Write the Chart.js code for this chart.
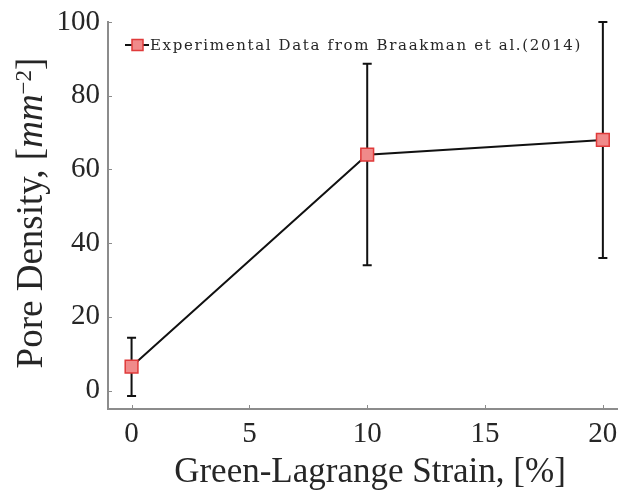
<!DOCTYPE html>
<html>
<head>
<meta charset="utf-8">
<script src="https://cdn.jsdelivr.net/npm/chart.js@4.4.1/dist/chart.umd.min.js"></script>
<style>
html,body{margin:0;padding:0;background:#fff;}
#wrap{width:618px;height:491px;position:relative;}
</style>
</head>
<body>
<div id="wrap"><canvas id="c"></canvas></div>
<script>
// ---- data ----
const strain = [0, 10, 20];            // Green-Lagrange strain [%]
const poreDensity = [6.5, 64, 68];      // mean pore density [mm^-2]
const errLow = [-1.5, 34, 36];          // lower end of error bar
const errHigh = [14.3, 88.7, 100];      // upper end of error bar
const xTicks = [0, 5, 10, 15, 20];
const yTicks = [0, 20, 40, 60, 80, 100];
const legendLabel = 'Experimental Data from Braakman et al.(2014)';
const xTitle = 'Green-Lagrange Strain, [%]';

const SERIF = '"Liberation Serif", "Times New Roman", serif';
const MARK_FILL = '#f08a8a';
const MARK_EDGE = '#e03a3a';
const AXIS_COL = '#8c8c8c';
const TEXT_COL = '#262626';

const errorBars = {
  id: 'errorBars',
  beforeDatasetsDraw(chart) {
    const {ctx, scales: {x, y}} = chart;
    ctx.save();
    ctx.strokeStyle = '#111';
    ctx.lineWidth = 2;
    for (let i = 0; i < strain.length; i++) {
      const px = x.getPixelForValue(strain[i]);
      const lo = y.getPixelForValue(errLow[i]);
      const hi = y.getPixelForValue(errHigh[i]);
      ctx.beginPath();
      ctx.moveTo(px, lo); ctx.lineTo(px, hi);
      ctx.moveTo(px - 4.5, lo); ctx.lineTo(px + 4.5, lo);
      ctx.moveTo(px - 4.5, hi); ctx.lineTo(px + 4.5, hi);
      ctx.stroke();
    }
    ctx.restore();
  }
};

const decorations = {
  id: 'decorations',
  afterDraw(chart) {
    const {ctx, chartArea: a, scales: {x, y}} = chart;
    ctx.save();
    // inward tick marks
    ctx.strokeStyle = AXIS_COL;
    ctx.lineWidth = 1;
    ctx.beginPath();
    xTicks.forEach(v => { const p = Math.round(x.getPixelForValue(v)) + 0.5; ctx.moveTo(p, a.bottom); ctx.lineTo(p, a.bottom - 4); });
    yTicks.forEach(v => { const p = Math.round(y.getPixelForValue(v)) + 0.5; ctx.moveTo(a.left, p); ctx.lineTo(a.left + 4, p); });
    ctx.stroke();

    // legend (inside plot, top-left)
    const ly = 45, lx = 125;
    ctx.strokeStyle = '#111';
    ctx.lineWidth = 2;
    ctx.beginPath(); ctx.moveTo(lx, ly); ctx.lineTo(lx + 24, ly); ctx.stroke();
    ctx.fillStyle = MARK_FILL; ctx.strokeStyle = MARK_EDGE; ctx.lineWidth = 1.5;
    ctx.fillRect(lx + 7, ly - 5.5, 11, 11); ctx.strokeRect(lx + 7, ly - 5.5, 11, 11);
    ctx.fillStyle = TEXT_COL;
    ctx.font = '15px "DejaVu Serif", serif';
    ctx.textBaseline = 'middle';
    const lw = ctx.measureText(legendLabel).width;
    ctx.letterSpacing = Math.max(0, (432 - lw) / legendLabel.length).toFixed(2) + 'px';
    ctx.fillText(legendLabel, lx + 25, ly + 1);
    ctx.letterSpacing = '0px';

    // x-axis title
    ctx.font = '35px ' + SERIF;
    ctx.textAlign = 'center';
    ctx.textBaseline = 'alphabetic';
    ctx.fillText(xTitle, 370, 482);
    ctx.textAlign = 'left';

    // y-axis title with italic unit and superscript
    const cy = 213;
    const cx = 30;
    ctx.translate(cx, cy);
    ctx.rotate(-Math.PI / 2);
    const fN = '37px ' + SERIF, fI = 'italic 37px ' + SERIF, fS = '23px ' + SERIF;
    const parts = [
      {t: 'Pore Density, [', f: fN, dy: 12},
      {t: 'mm', f: fI, dy: 12},
      {t: '\u22122', f: fS, dy: 1},
      {t: ']', f: fN, dy: 12}
    ];
    let total = 0;
    parts.forEach(p => { ctx.font = p.f; p.w = ctx.measureText(p.t).width; total += p.w; });
    let px = -total / 2;
    parts.forEach(p => { ctx.font = p.f; ctx.fillText(p.t, px, p.dy); px += p.w; });
    ctx.restore();
  }
};

new Chart(document.getElementById('c'), {
  type: 'line',
  data: {
    datasets: [{
      label: legendLabel,
      data: strain.map((s, i) => ({x: s, y: poreDensity[i]})),
      borderColor: '#111',
      borderWidth: 2,
      pointStyle: 'rect',
      pointRadius: 9,
      pointHoverRadius: 9,
      pointBackgroundColor: MARK_FILL,
      pointBorderColor: MARK_EDGE,
      pointBorderWidth: 1.5,
      clip: false,
      tension: 0
    }]
  },
  options: {
    responsive: true,
    maintainAspectRatio: false,
    animation: false,
    events: [],
    layout: {autoPadding: false, padding: {top: 22, right: 1, left: 0, bottom: 0}},
    plugins: {legend: {display: false}, tooltip: {enabled: false}},
    scales: {
      x: {
        type: 'linear', min: -1, max: 20.6,
        afterBuildTicks: s => { s.ticks = xTicks.map(v => ({value: v})); },
        afterFit: s => { s.height = 82; s.paddingLeft = 0; s.paddingRight = 0; },
        grid: {display: true, drawOnChartArea: false, drawTicks: false},
        border: {display: true, color: AXIS_COL, width: 2},
        ticks: {padding: 8, color: TEXT_COL, font: {family: SERIF, size: 29}},
        title: {display: false, text: xTitle}
      },
      y: {
        type: 'linear', min: -5, max: 100,
        afterBuildTicks: s => { s.ticks = yTicks.map(v => ({value: v})); },
        afterFit: s => { s.width = 108; s.paddingTop = 0; s.paddingBottom = 0; },
        grid: {display: true, drawOnChartArea: false, drawTicks: false},
        border: {display: true, color: AXIS_COL, width: 2},
        ticks: {padding: 8, color: TEXT_COL, font: {family: SERIF, size: 29}}
      }
    }
  },
  plugins: [errorBars, decorations]
});
</script>
</body>
</html>
